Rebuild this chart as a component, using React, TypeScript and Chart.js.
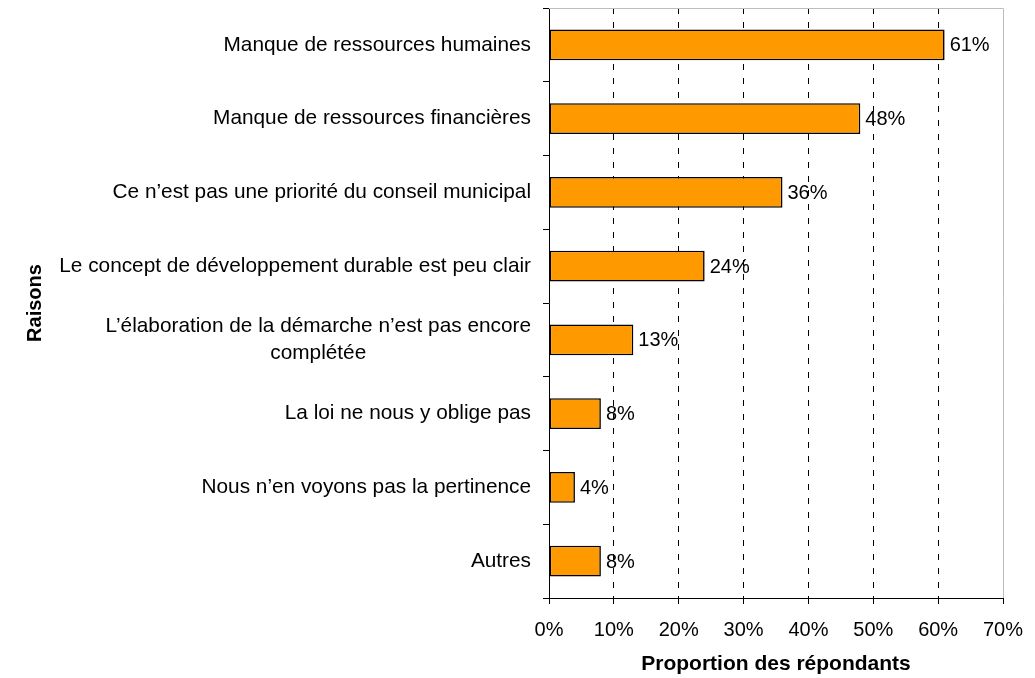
import React, { useEffect, useRef } from "react";
import { Chart, registerables } from "chart.js";

Chart.register(...registerables);

const categories: (string | string[])[] = [
  "Manque de ressources humaines",
  "Manque de ressources financières",
  "Ce n’est pas une priorité du conseil municipal",
  "Le concept de développement durable est peu clair",
  ["L’élaboration de la démarche n’est pas encore", "complétée"],
  "La loi ne nous y oblige pas",
  "Nous n’en voyons pas la pertinence",
  "Autres",
];

const values: number[] = [61, 48, 36, 24, 13, 8, 4, 8];

const xTickLabels: string[] = ["0%", "10%", "20%", "30%", "40%", "50%", "60%", "70%"];

const xTitle = "Proportion des répondants";
const yTitle = "Raisons";

const FONT = "'Liberation Sans', Arial, sans-serif";

export default function App() {
  const ref = useRef<HTMLCanvasElement | null>(null);

  useEffect(() => {
    if (!ref.current) return;

    const decorations = {
      id: "decorations",
      beforeDatasetsDraw(chart: any) {
        const { ctx, chartArea } = chart;
        ctx.save();
        ctx.strokeStyle = "#bdbdbd";
        ctx.lineWidth = 1;
        ctx.setLineDash([]);
        ctx.beginPath();
        const t = Math.round(chartArea.top) + 0.5;
        const r = Math.round(chartArea.right) + 0.5;
        ctx.moveTo(Math.round(chartArea.left), t);
        ctx.lineTo(r, t);
        ctx.lineTo(r, Math.round(chartArea.bottom));
        ctx.stroke();
        ctx.restore();
      },
      afterDraw(chart: any) {
        const { ctx, chartArea } = chart;
        const yScale = chart.scales.y;
        ctx.save();
        ctx.fillStyle = "#000";
        ctx.textBaseline = "middle";
        ctx.font = `20.8px ${FONT}`;
        const right = chartArea.left - 18;
        const lh = 27;
        categories.forEach((lab, i) => {
          const cy = yScale.getPixelForValue(i);
          const lines = Array.isArray(lab) ? lab : [lab];
          const w = Math.max(...lines.map((l) => ctx.measureText(l).width));
          lines.forEach((ln, j) => {
            const ly = cy + (j - (lines.length - 1) / 2) * lh;
            if (lines.length > 1) {
              ctx.textAlign = "center";
              ctx.fillText(ln, right - w / 2, ly);
            } else {
              ctx.textAlign = "right";
              ctx.fillText(ln, right, ly);
            }
          });
        });
        // data labels
        ctx.font = `20px ${FONT}`;
        ctx.textAlign = "left";
        const meta = chart.getDatasetMeta(0);
        meta.data.forEach((bar: any, i: number) => {
          ctx.fillText(`${values[i]}%`, bar.x + 5, bar.y + 1);
        });
        ctx.restore();
      },
    };

    const chart = new Chart(ref.current, {
      type: "bar",
      data: {
        labels: categories,
        datasets: [
          {
            data: values,
            backgroundColor: "#ff9900",
            borderColor: "#000",
            borderWidth: 1.6,
            borderSkipped: false,
            barPercentage: 0.42,
            categoryPercentage: 1,
          },
        ],
      },
      options: {
        indexAxis: "y",
        animation: false,
        responsive: false,
        devicePixelRatio: 1,
        layout: { padding: { top: 8, right: 32, bottom: 0, left: 0 } },
        plugins: {
          legend: { display: false },
          tooltip: { enabled: false },
        },
        font: { family: FONT },
        scales: {
          x: {
            type: "linear",
            min: 0,
            max: 70,
            ticks: {
              stepSize: 10,
              color: "#000",
              padding: 14,
              font: { family: FONT, size: 20 },
              callback: (_v: any, i: number) => xTickLabels[i],
            },
            grid: {
              color: (c: any) =>
                c.index === 0 || c.index === xTickLabels.length - 1 ? "rgba(0,0,0,0)" : "#000",
              tickColor: "#000",
              tickLength: 6,
              tickBorderDash: [],
              lineWidth: 1,
            },
            border: { display: true, color: "#000", width: 1, dash: [6, 8] },
            title: {
              display: true,
              text: xTitle,
              color: "#000",
              font: { family: FONT, size: 21, weight: "bold" },
              padding: { top: 0, bottom: 1 },
            },
            afterFit: (s: any) => {
              s.height = 80;
              s.paddingLeft = 0;
              s.paddingRight = 0;
            },
          },
          y: {
            type: "category",
            offset: true,
            ticks: { display: false },
            grid: {
              offset: true,
              drawOnChartArea: false,
              color: "#000",
              tickColor: "#000",
              tickLength: 6,
            },
            border: { display: true, color: "#000", width: 1 },
            title: {
              display: true,
              text: yTitle,
              color: "#000",
              font: { family: FONT, size: 20, weight: "bold" },
              padding: { top: 23, bottom: 0 },
            },
            afterFit: (s: any) => {
              s.width = 549;
              s.paddingTop = 0;
              s.paddingBottom = 0;
            },
          },
        },
      } as any,
      plugins: [decorations],
    });

    return () => chart.destroy();
  }, []);

  return (
    <div style={{ position: "absolute", left: 0, top: 0, width: 1035, height: 678, background: "#fff" }}>
      <canvas ref={ref} width={1035} height={678} style={{ display: "block" }} />
    </div>
  );
}
